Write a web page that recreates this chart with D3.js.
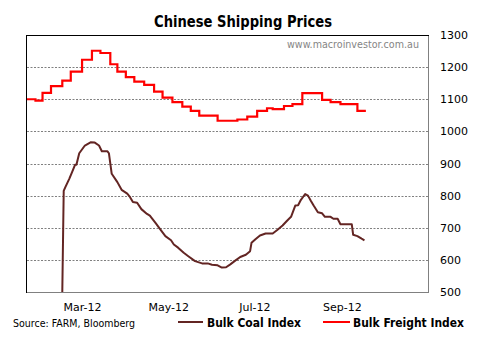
<!DOCTYPE html>
<html><head><meta charset="utf-8">
<script src="https://cdn.jsdelivr.net/npm/d3@7"></script>
<style>body{margin:0;background:#fff}svg{display:block}text{font-family:"DejaVu Sans",Tahoma,sans-serif}</style>
</head><body><svg id="c" width="485" height="345"></svg>
<script>
const yTicks = [500,600,700,800,900,1000,1100,1200,1300];
const xTickDates = ["2012-03-01","2012-05-01","2012-07-01","2012-09-01"];
const xTickLabels = ["Mar-12","May-12","Jul-12","Sep-12"];

const freightDates = ["2012-01-22","2012-01-28","2012-02-02","2012-02-08","2012-02-16","2012-02-22","2012-03-01","2012-03-08","2012-03-14","2012-03-21","2012-03-26","2012-04-01","2012-04-07","2012-04-14","2012-04-21","2012-04-27","2012-05-04","2012-05-11","2012-05-17","2012-05-23","2012-06-05","2012-06-19","2012-06-26","2012-07-03","2012-07-10","2012-07-14","2012-07-22","2012-07-28","2012-08-04","2012-08-18","2012-08-24","2012-08-31","2012-09-12","2012-09-18"];
const freightValues = [1100,1096,1120,1141,1158,1186,1223,1251,1244,1209,1186,1169,1155,1145,1124,1105,1091,1077,1064,1049,1033,1037,1046,1064,1072,1069,1079,1085,1119,1098,1091,1085,1064,1064];

const coalDates = ["2012-02-16","2012-02-17","2012-02-18","2012-02-21","2012-02-23","2012-02-25","2012-02-26","2012-02-28","2012-03-03","2012-03-07","2012-03-10","2012-03-13","2012-03-15","2012-03-19","2012-03-20","2012-03-22","2012-03-26","2012-03-29","2012-04-02","2012-04-04","2012-04-06","2012-04-09","2012-04-12","2012-04-16","2012-04-18","2012-04-22","2012-04-25","2012-04-29","2012-05-03","2012-05-05","2012-05-08","2012-05-12","2012-05-15","2012-05-20","2012-05-25","2012-05-29","2012-06-01","2012-06-05","2012-06-08","2012-06-11","2012-06-14","2012-06-17","2012-06-21","2012-06-25","2012-06-28","2012-06-29","2012-07-02","2012-07-05","2012-07-09","2012-07-14","2012-07-17","2012-07-21","2012-07-24","2012-07-27","2012-07-30","2012-08-01","2012-08-03","2012-08-06","2012-08-08","2012-08-10","2012-08-12","2012-08-15","2012-08-18","2012-08-20","2012-08-24","2012-08-26","2012-08-29","2012-08-31","2012-09-08","2012-09-09","2012-09-12","2012-09-15","2012-09-17"];
const coalValues = [500,815,825,853,874,896,896,932,956,966,965,956,938,938,932,868,842,818,806,795,780,778,758,743,738,715,697,674,661,648,638,622,612,596,589,589,585,583,576,577,586,596,609,616,627,653,665,676,682,682,692,707,721,734,769,770,787,805,800,784,769,748,745,734,734,728,728,711,711,678,674,666,661];

const parse = d3.timeParse("%Y-%m-%d");
const svg = d3.select("#c");
const L=27,R=428,T=35,B=292;
const x = d3.scaleTime().domain([parse("2012-01-22"), parse("2012-11-01")]).range([L,R]);
const y = d3.scaleLinear().domain([500,1300]).range([B,T]);

// gridlines
svg.append("g").selectAll("line").data(yTicks.filter(v=>v>500&&v<1300)).join("line")
  .attr("x1",L).attr("x2",R).attr("y1",d=>Math.round(y(d))+0.5).attr("y2",d=>Math.round(y(d))+0.5)
  .attr("stroke","#808080").attr("stroke-dasharray","2,1.5").attr("stroke-width",1);

// borders
svg.append("line").attr("x1",R+0.5).attr("x2",R+0.5).attr("y1",T).attr("y2",B+0.5).attr("stroke","#808080");
svg.append("line").attr("x1",L).attr("x2",R+1).attr("y1",B+0.5).attr("y2",B+0.5).attr("stroke","#808080");
svg.append("line").attr("x1",L-0.5).attr("x2",L-0.5).attr("y1",T).attr("y2",B+1).attr("stroke","#000");
svg.append("line").attr("x1",L-1).attr("x2",R+1).attr("y1",T+0.5).attr("y2",T+0.5).attr("stroke","#000");

// right axis labels
const ya = d3.axisRight(y).tickValues(yTicks).tickSize(0).tickPadding(12).tickFormat(d3.format("d"));
const gy = svg.append("g").attr("transform",`translate(${R},0)`).call(ya);
gy.select(".domain").remove();
gy.selectAll("text").attr("font-size","11px").attr("fill","#000").attr("font-family","DejaVu Sans, sans-serif");

// bottom axis labels
const xa = d3.axisBottom(x).tickValues(xTickDates.map(parse)).tickSize(0).tickPadding(11)
  .tickFormat((d,i)=>xTickLabels[i]);
const gx = svg.append("g").attr("transform",`translate(0,${B})`).call(xa);
gx.select(".domain").remove();
gx.selectAll("text").attr("font-size","11px").attr("fill","#000").attr("font-family","DejaVu Sans, sans-serif");

svg.append("clipPath").attr("id","pc").append("rect").attr("x",L).attr("y",T).attr("width",R-L).attr("height",B-T);

const freight = freightDates.map((d,i)=>({d:parse(d),v:freightValues[i]}));
const coal = coalDates.map((d,i)=>({d:parse(d),v:coalValues[i]}));

svg.append("path").datum(coal).attr("clip-path","url(#pc)")
  .attr("d",d3.line().x(p=>x(p.d)).y(p=>y(p.v)))
  .attr("fill","none").attr("stroke","#632523").attr("stroke-width",2).attr("stroke-linejoin","round");
svg.append("path").datum(freight).attr("clip-path","url(#pc)")
  .attr("d",d3.line().x(p=>x(p.d)).y(p=>y(p.v)).curve(d3.curveStepAfter))
  .attr("fill","none").attr("stroke","#ff0000").attr("stroke-width",2.2);

// title
svg.append("text").attr("x",243).attr("y",27).attr("text-anchor","middle")
  .attr("font-size","15px").attr("font-weight","bold").attr("textLength",178).attr("lengthAdjust","spacingAndGlyphs")
  .text("Chinese Shipping Prices");
svg.append("text").attr("x",419).attr("y",48).attr("text-anchor","end").attr("fill","#858585")
  .attr("font-size","11px").attr("textLength",132).attr("lengthAdjust","spacingAndGlyphs")
  .text("www.macroinvestor.com.au");
svg.append("text").attr("x",13).attr("y",327).attr("font-size","11px")
  .attr("textLength",122).attr("lengthAdjust","spacingAndGlyphs").text("Source: FARM, Bloomberg");

// legend
svg.append("line").attr("x1",178).attr("x2",203).attr("y1",322).attr("y2",322).attr("stroke","#632523").attr("stroke-width",2);
svg.append("text").attr("x",207).attr("y",327).attr("font-size","12px").attr("font-weight","bold")
  .attr("textLength",94).attr("lengthAdjust","spacingAndGlyphs").text("Bulk Coal Index");
svg.append("line").attr("x1",323).attr("x2",350).attr("y1",322).attr("y2",322).attr("stroke","#ff0000").attr("stroke-width",2);
svg.append("text").attr("x",353).attr("y",327).attr("font-size","12px").attr("font-weight","bold")
  .attr("textLength",111).attr("lengthAdjust","spacingAndGlyphs").text("Bulk Freight Index");
</script></body></html>
